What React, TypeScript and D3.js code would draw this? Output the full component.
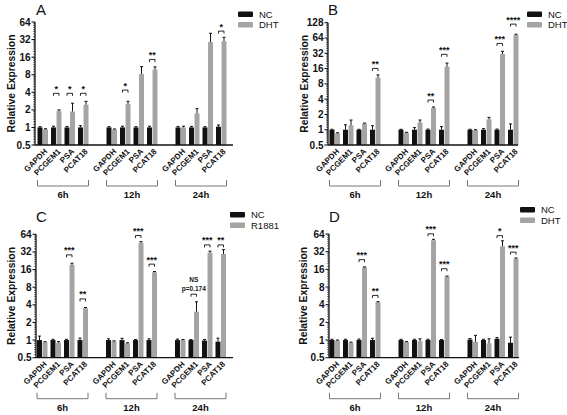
import React from "react";
import * as d3 from "d3";

const genes = ["GAPDH", "PCGEM1", "PSA", "PCAT18"];
const timepoints = ["6h", "12h", "24h"];
const series = ["ctrl", "trt"];
const yTicks64 = [0.5, 1, 2, 4, 8, 16, 32, 64];
const yTicks128 = [0.5, 1, 2, 4, 8, 16, 32, 64, 128];

// values ordered: 6h(GAPDH,PCGEM1,PSA,PCAT18), 12h(...), 24h(...)
const aNC = [1.0, 1.0, 1.0, 1.0, 1.0, 1.0, 1.0, 1.0, 1.0, 1.0, 1.0, 1.03];
const aNCErr = [1.03, 1.05, 1.04, 1.07, 1.03, 1.05, 1.03, 1.05, 1.04, 1.04, 1.03, 1.1];
const aDHT = [0.93, 1.9, 1.87, 2.45, 0.92, 2.5, 8.2, 9.8, 1.0, 1.74, 29, 30];
const aDHTErr = [0.95, 2.0, 2.6, 2.8, 0.94, 2.8, 11, 10.9, 1.05, 2.1, 41, 35];
const aSig = [
  { t: 0, g: 1, label: "*", level: 3.84 },
  { t: 0, g: 2, label: "*", level: 3.84 },
  { t: 0, g: 3, label: "*", level: 3.84 },
  { t: 1, g: 1, label: "*", level: 4.36 },
  { t: 1, g: 3, label: "**", level: 14.6 },
  { t: 2, g: 3, label: "*", level: 44.7 },
];

const bNC = [1, 1, 1, 1, 1, 1, 1, 1, 1, 1, 1, 1];
const bNCErr = [1.02, 1.25, 1.02, 1.2, 1.02, 1.1, 1.03, 1.15, 1.02, 1.05, 1.03, 1.3];
const bDHT = [0.85, 1.22, 1.32, 10.5, 0.87, 1.38, 2.7, 17.4, 0.98, 1.6, 31, 74];
const bDHTErr = [0.87, 1.55, 1.35, 12, 0.89, 1.55, 2.8, 20.5, 1.0, 1.75, 35, 76];
const bSig = [
  { t: 0, g: 3, label: "**", level: 16.1 },
  { t: 1, g: 2, label: "**", level: 3.84 },
  { t: 1, g: 3, label: "***", level: 30.5 },
  { t: 2, g: 2, label: "***", level: 50 },
  { t: 2, g: 3, label: "****", level: 120 },
];

const cNC = [1.0, 1.0, 1.0, 1.0, 1.0, 1.0, 1.0, 1.0, 1.0, 1.0, 0.98, 0.94];
const cNCErr = [1.17, 1.03, 1.03, 1.08, 1.05, 1.07, 1.02, 1.05, 1.04, 1.02, 1.02, 1.08];
const cR1881 = [0.92, 0.9, 19.3, 3.5, 0.95, 0.88, 46, 14.4, 1.0, 3.05, 31, 29.5];
const cR1881Err = [0.94, 0.94, 20.5, 3.6, 0.97, 0.9, 48, 14.8, 1.02, 4.5, 33, 35];
const cSig = [
  { t: 0, g: 2, label: "***", level: 28.5 },
  { t: 0, g: 3, label: "**", level: 5.05 },
  { t: 1, g: 2, label: "***", level: 61 },
  { t: 1, g: 3, label: "***", level: 19.8 },
  { t: 2, g: 1, label: "NS|p=0.174", level: 6.07 },
  { t: 2, g: 2, label: "***", level: 42.2 },
  { t: 2, g: 3, label: "**", level: 42.2 },
];

const dNC = [1, 1, 1, 1, 1, 1, 1, 1, 1.02, 1, 1.05, 0.9];
const dNCErr = [1.03, 1.03, 1.04, 1.07, 1.03, 1.03, 1.03, 1.02, 1.06, 1.03, 1.1, 1.12];
const dDHT = [0.98, 0.9, 17.3, 4.4, 0.92, 0.95, 50, 12.1, 0.93, 0.88, 39.5, 24.3];
const dDHTErr = [1.0, 0.92, 17.6, 4.5, 0.94, 1.05, 52, 12.3, 1.2, 1.05, 49, 25];
const dSig = [
  { t: 0, g: 2, label: "***", level: 23.4 },
  { t: 0, g: 3, label: "**", level: 5.75 },
  { t: 1, g: 2, label: "***", level: 64.5 },
  { t: 1, g: 3, label: "***", level: 16.4 },
  { t: 2, g: 2, label: "*", level: 60 },
  { t: 2, g: 3, label: "***", level: 31.4 },
];

const FONT = "'Liberation Sans', Arial, sans-serif";
const GRAY = "#a4a4a4";

type Sig = { t: number; g: number; label: string; level: number };
type Layout = {
  ax0: number; ax1: number; yBottom: number; yTop: number; gx0: number;
  letterX: number; letterY: number; legX: number; legY: number; labelX: number;
};

function Panel(props: {
  letter: string; ctrlName: string; trtName: string;
  ctrl: number[]; ctrlErr: number[]; trt: number[]; trtErr: number[];
  sig: Sig[]; ticks: number[]; L: Layout;
}) {
  const { letter, ctrlName, trtName, ctrl, ctrlErr, trt, trtErr, sig, ticks, L } = props;
  const maxT = ticks[ticks.length - 1];
  const y = d3.scaleLog().base(2).domain([0.5, maxT]).range([L.yBottom, L.yTop]);
  const groupStep = 69;
  const groupBand = 51;
  const xg = d3.scaleBand<string>().domain(timepoints)
    .range([L.gx0, L.gx0 + groupStep * 2 + groupBand])
    .paddingInner((groupStep - groupBand) / groupStep).paddingOuter(0);
  const xgene = d3.scaleBand<string>().domain(genes).range([0, xg.bandwidth()])
    .paddingInner(3 / 13.5).paddingOuter(0);
  const xs = d3.scaleBand<string>().domain(series).range([0, xgene.bandwidth()]).paddingInner(0.1);
  const bw = xs.bandwidth();

  const minor: number[] = [];
  for (let k = -1; Math.pow(2, k) < maxT; k++) {
    for (let j = 1; j < 8; j++) minor.push(Math.pow(2, k) * (1 + j / 8));
  }

  const bars: JSX.Element[] = [];
  timepoints.forEach((tp, ti) => {
    genes.forEach((gn, gi) => {
      const idx = ti * 4 + gi;
      const gx = (xg(tp) as number) + (xgene(gn) as number);
      [["ctrl", ctrl[idx], ctrlErr[idx], "#111"], ["trt", trt[idx], trtErr[idx], GRAY]].forEach(
        ([s, v, e, col]: any) => {
          const x = gx + (xs(s) as number);
          const top = y(v);
          const cx = x + bw / 2;
          bars.push(
            <g key={`${tp}-${gn}-${s}`}>
              <rect x={x} y={top} width={bw} height={L.yBottom - top} fill={col} />
              {e > v && (
                <g stroke="#111" strokeWidth={1}>
                  <line x1={cx} x2={cx} y1={top} y2={y(e)} />
                  <line x1={cx - 1.5} x2={cx + 1.5} y1={y(e)} y2={y(e)} />
                </g>
              )}
            </g>
          );
        }
      );
    });
  });

  return (
    <g fontFamily={FONT}>
      <text x={L.letterX} y={L.letterY} fontSize={15} fill="#111">{letter}</text>
      {/* legend */}
      <rect x={L.legX} y={L.legY} width={15} height={5.5} fill="#111" rx={1} />
      <text x={L.legX + 21} y={L.legY + 3} dy="0.35em" fontSize={9.5} fill="#111">{ctrlName}</text>
      <rect x={L.legX} y={L.legY + 10.5} width={15} height={5.5} fill={GRAY} rx={1} />
      <text x={L.legX + 21} y={L.legY + 13.5} dy="0.35em" fontSize={9.5} fill="#111">{trtName}</text>
      {/* y label */}
      <text transform={`translate(${L.labelX},${(L.yBottom + L.yTop) / 2}) rotate(-90)`} textAnchor="middle"
        fontSize={10.3} fontWeight="bold" fill="#111">Relative Expression</text>
      {bars}
      {/* y axis */}
      <g stroke="#111">
        <line x1={L.ax0} x2={L.ax0} y1={L.yBottom} y2={L.yTop} strokeWidth={1.3} />
        {minor.map((m, i) => (
          <line key={i} x1={L.ax0 - 1.8} x2={L.ax0} y1={y(m)} y2={y(m)} strokeWidth={0.7} />
        ))}
        {ticks.map((t) => (
          <line key={t} x1={L.ax0 - 3.5} x2={L.ax0} y1={y(t)} y2={y(t)} strokeWidth={1.1} />
        ))}
        <line x1={L.ax0} x2={L.ax1} y1={L.yBottom} y2={L.yBottom} strokeWidth={1.3} />
      </g>
      {ticks.map((t) => (
        <text key={t} x={L.ax0 - 4.5} y={y(t)} dy="0.35em" textAnchor="end" fontSize={10}
          fontWeight="bold" fill="#111">{String(t)}</text>
      ))}
      {/* gene labels */}
      {timepoints.map((tp) =>
        genes.map((gn) => {
          const cx = (xg(tp) as number) + (xgene(gn) as number) + xgene.bandwidth() / 2;
          return (
            <text key={tp + gn} transform={`translate(${cx + 3},${L.yBottom + 5}) rotate(-45)`}
              textAnchor="end" dy="0.35em" fontSize={8} fontWeight="bold" fill="#111">{gn}</text>
          );
        })
      )}
      {/* group brackets */}
      {timepoints.map((tp) => {
        const x0 = xg(tp) as number;
        const x1 = x0 + xg.bandwidth();
        const yb = L.yBottom + 41;
        return (
          <g key={tp}>
            <path d={`M${x0},${yb - 6}V${yb}H${x1}V${yb - 6}`} fill="none" stroke="#777" strokeWidth={1} />
            <text x={(x0 + x1) / 2} y={yb + 12} textAnchor="middle" fontSize={9.5} fontWeight="bold"
              fill="#111">{tp}</text>
          </g>
        );
      })}
      {/* significance */}
      {sig.map((s, i) => {
        const gx = (xg(timepoints[s.t]) as number) + (xgene(genes[s.g]) as number);
        const c0 = gx + (xs("ctrl") as number) + bw / 2;
        const c1 = gx + (xs("trt") as number) + bw / 2;
        const yy = y(s.level);
        const parts = s.label.split("|");
        return (
          <g key={i}>
            <path d={`M${c0},${yy + 2.5}V${yy}H${c1}V${yy + 2.5}`} fill="none" stroke="#111" strokeWidth={0.9} />
            {parts.length === 1 ? (
              <text x={(c0 + c1) / 2} y={yy - 1.5} textAnchor="middle" fontSize={9} fontWeight="bold"
                fill="#111">{s.label}</text>
            ) : (
              <g>
                <text x={(c0 + c1) / 2} y={yy - 12.5} textAnchor="middle" fontSize={6.5} fontWeight="bold" fill="#111">{parts[0]}</text>
                <text x={(c0 + c1) / 2} y={yy - 3} textAnchor="middle" fontSize={6.5} fontWeight="bold" fill="#111">{parts[1]}</text>
              </g>
            )}
          </g>
        );
      })}
    </g>
  );
}

export default function App() {
  return (
    <svg width={567} height={415} style={{ position: "absolute", left: 0, top: 0, background: "#fff" }}>
      <rect width={567} height={415} fill="#fff" />
      <Panel letter="A" ctrlName="NC" trtName="DHT" ctrl={aNC} ctrlErr={aNCErr} trt={aDHT} trtErr={aDHTErr}
        sig={aSig} ticks={yTicks64}
        L={{ ax0: 35, ax1: 233, yBottom: 145, yTop: 22, gx0: 37.5, letterX: 36, letterY: 15, legX: 238, legY: 11.5, labelX: 15 }} />
      <Panel letter="B" ctrlName="NC" trtName="DHT" ctrl={bNC} ctrlErr={bNCErr} trt={bDHT} trtErr={bDHTErr}
        sig={bSig} ticks={yTicks128}
        L={{ ax0: 328, ax1: 518, yBottom: 145, yTop: 22.7, gx0: 329.5, letterX: 328, letterY: 15, legX: 527, legY: 11.5, labelX: 308 }} />
      <Panel letter="C" ctrlName="NC" trtName="R1881" ctrl={cNC} ctrlErr={cNCErr} trt={cR1881} trtErr={cR1881Err}
        sig={cSig} ticks={yTicks64}
        L={{ ax0: 36, ax1: 233, yBottom: 357.7, yTop: 234.3, gx0: 37, letterX: 36, letterY: 222, legX: 230, legY: 212, labelX: 15 }} />
      <Panel letter="D" ctrlName="NC" trtName="DHT" ctrl={dNC} ctrlErr={dNCErr} trt={dDHT} trtErr={dDHTErr}
        sig={dSig} ticks={yTicks64}
        L={{ ax0: 329, ax1: 519, yBottom: 357.7, yTop: 234, gx0: 329.5, letterX: 329, letterY: 222, legX: 520, legY: 207, labelX: 307 }} />
    </svg>
  );
}
